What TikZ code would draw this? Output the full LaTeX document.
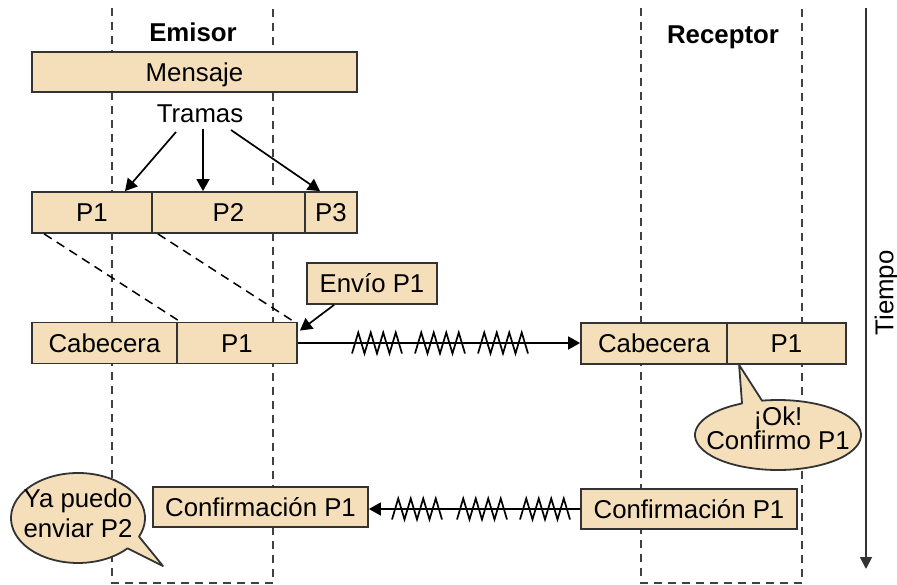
\documentclass[tikz,border=0pt]{standalone}
\usepackage{fontspec}
\setmainfont{Liberation Sans}
\usetikzlibrary{arrows.meta,calc}
\definecolor{boxfill}{HTML}{F5DFBA}
\definecolor{boxline}{HTML}{333333}
\definecolor{lifeline}{HTML}{404040}
\newcommand\myzigzag[2]{%
  \draw[zz] (#1,#2+10.5) \foreach \k in {1,...,8} { -- ({#1+\k*6.25},{#2+ifthenelse(isodd(\k),-10.5,10.5)}) };}
\begin{document}
\begin{tikzpicture}[x=1pt,y=-1pt,
  font=\fontsize{25.8}{29}\selectfont,
  pbox/.style={draw=boxline, line width=1.8pt, fill=boxfill, minimum height=41pt, inner sep=0pt, text height=18.5pt, text depth=0pt},
  lbl/.style={inner sep=0pt, text height=18.5pt, text depth=0pt},
  bold/.style={font=\fontsize{25.8}{29}\selectfont\bfseries},
  life/.style={draw=lifeline, line width=1.5pt, dash pattern=on 8pt off 6pt},
  dline/.style={draw=black, line width=1.5pt, dash pattern=on 9pt off 6pt},
  conn/.style={draw=black, line width=1.7pt, -{Triangle[length=12pt,width=13pt]}},
  zz/.style={draw=black, line width=1.7pt, line join=miter},
  bubble/.style={draw=boxline, line width=1.8pt, fill=boxfill, line join=round}
]
\useasboundingbox (0,0) rectangle (897,585);

% lifelines
\draw[life] (112,8) -- (112,583) -- (273,583) -- (273,8);
\draw[life] (641,8) -- (641,583) -- (802,583) -- (802,8);

% headers
\node[lbl, bold] (emisor) at (193,32) {Emisor};
\node[lbl, bold] (receptor) at (723,34) {Receptor};

% boxes
\node[pbox, minimum width=325pt, minimum height=40pt] (mensaje) at (194.5,72) {Mensaje};
\node[lbl] (tramas) at (200,113) {Tramas};
\node[pbox, minimum width=120pt] (p1) at (92,212.5) {P1};
\node[pbox, minimum width=153pt] (p2) at (228.5,212.5) {P2};
\node[pbox, minimum width=52pt] (p3) at (331,212.5) {P3};

\node[pbox, minimum width=130pt] (envio) at (372,283.5) {Envío P1};
\node[pbox, minimum width=145pt] (cab) at (104.5,343) {Cabecera};
\node[pbox, minimum width=120pt] (p1b) at (237,343) {P1};
\node[pbox, minimum width=146pt] (cabr) at (654,343.5) {Cabecera};
\node[pbox, minimum width=119pt] (p1r) at (786.5,343.5) {P1};
\node[pbox, minimum width=216pt, minimum height=40pt] (confr) at (689,509) {Confirmación P1};
\node[pbox, minimum width=215pt, minimum height=40pt] (confl) at (260.5,507) {Confirmación P1};

% dashed projections
\draw[dline] ([xshift=13pt]p1.south west) -- ([xshift=4pt]p1b.north west);
\draw[dline] ([xshift=5pt]p1.south east) -- ([xshift=-4pt]p1b.north east);

% time axis
\coordinate (t0) at (866,8);
\coordinate (t1) at (866,569);
\draw[draw=boxline, line width=1.8pt, -{Triangle[length=12pt,width=12pt]}] (t0) -- (t1);
\node[lbl, rotate=90] (tiempo) at (884,293) {Tiempo};

% tramas arrows
\coordinate (ta) at (176,132);
\coordinate (tb) at (203,129);
\coordinate (tc) at (231,130);
\draw[conn] (ta) -- ([xshift=33pt]p1.north);
\draw[conn] (tb) -- ([xshift=-25.5pt]p2.north);
\draw[conn] (tc) -- ([xshift=-11pt]p3.north);

% envio arrow
\draw[conn] ([xshift=28pt]envio.south west) -- ([xshift=2pt,yshift=-9pt]p1b.north east);

% transmission
\draw[conn] (p1b.east) -- (p1b.east -| cabr.west);
\myzigzag{352}{343}
\myzigzag{415}{343}
\myzigzag{478}{343}

\draw[conn] (confr.west) -- (confr.west -| confl.east);
\myzigzag{392}{509}
\myzigzag{457}{509}
\myzigzag{520}{509}

% bubbles
\coordinate (okc) at (778,435);
\draw[bubble] (okc) ++(115.7:83pt and 35pt) arc[start angle=115.7, end angle=461.1, x radius=83pt, y radius=35pt] -- ([xshift=13pt]p1r.south west) -- cycle;
\node[align=center, font=\fontsize{25.8}{22.5}\selectfont] (ok) at (778,428.5) {¡Ok!\\Confirmo P1};

\coordinate (yac) at (78,518);
\coordinate (yatip) at (163,566);
\draw[bubble] (yac) ++(-24.4:67pt and 45pt) arc[start angle=-24.4, end angle=317.6, x radius=67pt, y radius=45pt] -- (yatip) -- cycle;
\node[align=center, font=\fontsize{25.8}{30}\selectfont] (ya) at (78,513) {Ya puedo\\enviar P2};
\end{tikzpicture}
\end{document}
